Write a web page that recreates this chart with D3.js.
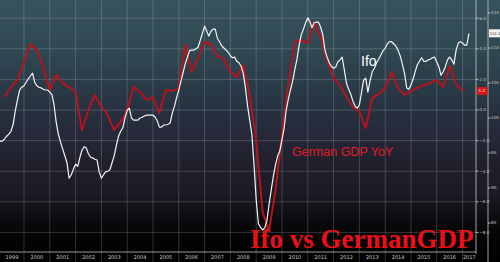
<!DOCTYPE html>
<meta charset="utf-8">
<style>
body { margin: 0; background: #000; }
svg { display: block; }
.tick-label { font: 5px "DejaVu Sans", sans-serif; fill: #c8c8c8; }
.tick-small { font: 4.2px "DejaVu Sans", sans-serif; fill: #c8c8c8; }
</style>
<body>
<div id="chart"></div>
<script src="https://d3js.org/d3.v7.min.js"></script>
<script>

var width = 500,
    height = 262,
    plotRight = 476,   // gdp axis line
    ifoAxisX = 488,    // ifo axis line
    axisY = 252;

// Ifo business climate, monthly from Jan 1999 to Apr 2017
var ifoStart = [1999, 0];
var ifoValues = [
  96.6, 96.7, 96.7, 97.0, 97.4, 97.7, 98.1, 99.1, 101.1, 102.6, 104.0, 104.4,
  104.6, 105.1, 105.6, 106.0, 106.4, 105.1, 104.6, 104.4, 104.3, 104.1, 104.0, 104.0,
  103.7, 103.3, 101.9, 99.4, 97.7, 96.6, 95.6, 94.6, 93.6, 91.4, 91.9, 92.7,
  93.4, 93.1, 94.3, 95.4, 95.9, 95.7, 94.9, 94.4, 94.3, 94.1, 94.0, 92.3,
  91.4, 91.9, 92.3, 92.4, 92.6, 93.6, 94.6, 96.1, 97.4, 98.1, 98.6, 100.0,
  101.1, 101.4, 100.0, 99.7, 99.7, 99.7, 100.0, 100.1, 100.3, 100.4, 100.4, 100.4,
  100.4, 100.1, 99.6, 98.7, 98.7, 99.0, 99.0, 99.1, 99.3, 100.7, 101.7, 102.9,
  104.0, 105.3, 106.4, 107.7, 108.6, 109.6, 109.7, 109.7, 109.9, 110.1, 111.1, 112.1,
  113.1, 112.4, 111.7, 112.4, 112.7, 112.7, 111.4, 110.9, 110.3, 110.0, 109.7, 109.4,
  108.9, 108.6, 108.7, 108.1, 107.9, 107.4, 106.4, 104.3, 101.7, 99.7, 97.6, 93.3,
  88.3, 84.9, 84.4, 84.0, 84.3, 85.3, 87.6, 89.7, 91.7, 93.3, 94.6, 95.3,
  96.9, 98.6, 101.1, 102.7, 104.0, 105.3, 106.9, 108.4, 110.4, 111.9, 112.7, 113.6,
  114.3, 113.7, 112.9, 113.6, 113.7, 113.7, 113.0, 111.9, 109.7, 108.7, 107.9, 107.4,
  107.1, 107.3, 108.0, 108.3, 108.7, 106.9, 105.0, 104.1, 103.4, 102.4, 101.7, 101.4,
  101.9, 103.7, 105.4, 105.7, 103.7, 105.3, 106.6, 107.1, 107.9, 108.4, 109.0, 109.6,
  110.0, 110.6, 110.9, 110.9, 110.6, 110.3, 109.7, 108.9, 107.7, 106.4, 104.3, 104.1,
  104.7, 105.6, 106.6, 107.6, 108.1, 108.6, 108.1, 108.1, 108.3, 108.4, 108.6, 108.7,
  108.0, 107.3, 106.1, 106.6, 107.3, 108.3, 108.7, 108.3, 107.7, 109.7, 110.7, 110.9,
  110.7, 110.4, 110.4, 112.1
];

// German GDP YoY %, quarterly 1999 Q1 to 2016 Q4
var gdpValues = [
  0.85, 1.5, 1.96, 3.14, 4.31, 3.92, 2.75, 1.31, 2.29, 1.76, 1.5, 1.18,
  -1.31, 0.0, 0.98, 0.2, -0.33, -1.31, -0.78, 0.0, 1.5, 1.18, 0.65, 0.85,
  -0.2, 1.31, 1.24, 1.44, 4.25, 2.48, 3.4, 4.44, 4.31, 3.53, 3.33, 2.48,
  2.16, 2.94, 0.98, -1.96, -6.67, -7.9, -5.23, -1.63, 1.63, 4.44, 4.58, 4.38,
  5.75, 4.77, 3.27, 2.09, 1.63, 0.85, 0.2, -0.13, -1.18, 0.78, 1.05, 1.44,
  2.48, 1.44, 0.98, 1.24, 1.44, 1.63, 1.76, 1.96, 1.5, 2.88, 1.7, 1.24
];

var gdpTicks = [6, 4, 2, 0, -2, -4, -6, -8];
var ifoTicks = [115, 110, 105, 100, 95, 90, 85];
var years = d3.range(1999, 2018);

var ifoData = ifoValues.map(function(v, i) {
  return { date: new Date(ifoStart[0], ifoStart[1] + i, 1), value: v };
});
var gdpData = gdpValues.map(function(v, i) {
  return { date: new Date(1999, 3 * (i + 1), 1), value: v };
});

var x = d3.scaleTime()
    .domain([new Date(1999, 0, 1), new Date(2017, 0, 1)])
    .range([-1.8, 462.6]);

var yGdp = d3.scaleLinear().domain([-8, 6]).range([232.4, 18.2]);
var yIfo = d3.scaleLinear().domain([85, 115]).range([223, 13]);

var svg = d3.select("#chart").append("svg")
    .attr("width", width)
    .attr("height", height);

var defs = svg.append("defs");
var grad = defs.append("linearGradient")
    .attr("id", "bg")
    .attr("x1", 0).attr("y1", 0).attr("x2", 0).attr("y2", 1);
[["0%", "#37535e"], ["18%", "#304953"], ["30%", "#2b3e4a"], ["42%", "#27313f"],
 ["52%", "#262839"], ["62%", "#20202b"], ["74%", "#1b1a25"], ["80%", "#111116"],
 ["88%", "#060608"], ["100%", "#000000"]].forEach(function(s) {
  grad.append("stop").attr("offset", s[0]).attr("stop-color", s[1]);
});

svg.append("rect")
    .attr("width", width)
    .attr("height", height)
    .attr("fill", "url(#bg)");

var grid = svg.append("g")
    .attr("stroke", "#cfd6da")
    .attr("stroke-opacity", 0.28)
    .attr("stroke-width", 0.8);

// vertical year lines
grid.selectAll(".vline")
    .data(years.slice(1))
    .enter().append("line")
    .attr("x1", function(d) { return x(new Date(d, 0, 1)); })
    .attr("x2", function(d) { return x(new Date(d, 0, 1)); })
    .attr("y1", 0)
    .attr("y2", height);

// horizontal lines on gdp ticks
grid.selectAll(".hline")
    .data(gdpTicks)
    .enter().append("line")
    .attr("x1", 0)
    .attr("x2", plotRight)
    .attr("y1", function(d) { return yGdp(d); })
    .attr("y2", function(d) { return yGdp(d); });

// bottom axis
svg.append("line")
    .attr("x1", 0).attr("x2", plotRight)
    .attr("y1", axisY).attr("y2", axisY)
    .attr("stroke", "#bbb").attr("stroke-width", 0.8);

svg.selectAll(".year")
    .data(years)
    .enter().append("text")
    .attr("class", "tick-label")
    .attr("text-anchor", "middle")
    .attr("x", function(d) {
      var a = Math.max(0, x(new Date(d, 0, 1)));
      var b = Math.min(plotRight, x(new Date(d + 1, 0, 1)));
      return (a + b) / 2;
    })
    .attr("y", 259)
    .text(function(d) { return d; });

// series
var gdpLine = d3.line()
    .x(function(d) { return x(d.date); })
    .y(function(d) { return yGdp(d.value); });

var ifoLine = d3.line()
    .x(function(d) { return x(d.date); })
    .y(function(d) { return yIfo(d.value); });

svg.append("path")
    .datum(gdpData)
    .attr("fill", "none")
    .attr("stroke", "#b8121c")
    .attr("stroke-width", 2)
    .attr("stroke-linejoin", "round")
    .attr("d", gdpLine);

svg.append("path")
    .datum(ifoData)
    .attr("fill", "none")
    .attr("stroke", "#f4f4f4")
    .attr("stroke-width", 1.2)
    .attr("stroke-linejoin", "round")
    .attr("d", ifoLine);

// right axes
svg.append("line")
    .attr("x1", plotRight).attr("x2", plotRight)
    .attr("y1", 0).attr("y2", axisY + 2)
    .attr("stroke", "#c8c8c8").attr("stroke-width", 0.8);
svg.append("line")
    .attr("x1", ifoAxisX).attr("x2", ifoAxisX)
    .attr("y1", 0).attr("y2", height)
    .attr("stroke", "#c8c8c8").attr("stroke-width", 0.8);

var gTicks = svg.append("g").selectAll("g")
    .data(gdpTicks).enter().append("g")
    .attr("transform", function(d) { return "translate(" + plotRight + "," + yGdp(d) + ")"; });
gTicks.append("line").attr("x1", 0).attr("x2", 2.5).attr("stroke", "#ddd").attr("stroke-width", 0.8);
gTicks.append("text").attr("class", "tick-small").attr("x", 3.2).attr("dy", "0.35em")
    .text(function(d) { return d3.format(".1f")(d); });

var iTicks = svg.append("g").selectAll("g")
    .data(ifoTicks).enter().append("g")
    .attr("transform", function(d) { return "translate(" + ifoAxisX + "," + yIfo(d) + ")"; });
iTicks.append("line").attr("x1", 0).attr("x2", 2.5).attr("stroke", "#ddd").attr("stroke-width", 0.8);
iTicks.append("text").attr("class", "tick-small").attr("x", 3).attr("dy", "0.35em")
    .text(function(d) { return d; });

// last value boxes
var lastGdp = gdpData[gdpData.length - 1];
var lastIfo = ifoData[ifoData.length - 1];

svg.append("rect")
    .attr("x", plotRight + 1).attr("y", yGdp(lastGdp.value) - 4)
    .attr("width", 10.5).attr("height", 8)
    .attr("fill", "#d8141c");
svg.append("text")
    .attr("class", "tick-small")
    .attr("x", plotRight + 2.5).attr("y", yGdp(lastGdp.value)).attr("dy", "0.35em")
    .style("fill", "#fff")
    .text(d3.format(".1f")(lastGdp.value));

svg.append("rect")
    .attr("x", ifoAxisX + 1).attr("y", yIfo(lastIfo.value) - 4)
    .attr("width", 11).attr("height", 8)
    .attr("fill", "#f2f2f2");
svg.append("text")
    .attr("class", "tick-small")
    .style("font-size", "3.8px")
    .attr("x", ifoAxisX + 1.5).attr("y", yIfo(lastIfo.value)).attr("dy", "0.35em")
    .style("fill", "#222")
    .text(d3.format(".1f")(lastIfo.value));

// annotations
svg.append("text")
    .attr("x", 361).attr("y", 66)
    .attr("fill", "#fff")
    .style("font", "14px 'Liberation Sans', Arial, sans-serif")
    .text("Ifo");

svg.append("text")
    .attr("x", 292).attr("y", 156)
    .attr("fill", "#e21c26")
    .style("font", "12.5px 'Liberation Sans', Arial, sans-serif")
    .text("German GDP YoY");

svg.append("text")
    .attr("x", 250).attr("y", 248)
    .attr("fill", "#ec1016")
    .style("font", "bold 27px 'Liberation Serif', 'Times New Roman', serif")
    .text("Ifo vs GermanGDP");

</script>
</body>
